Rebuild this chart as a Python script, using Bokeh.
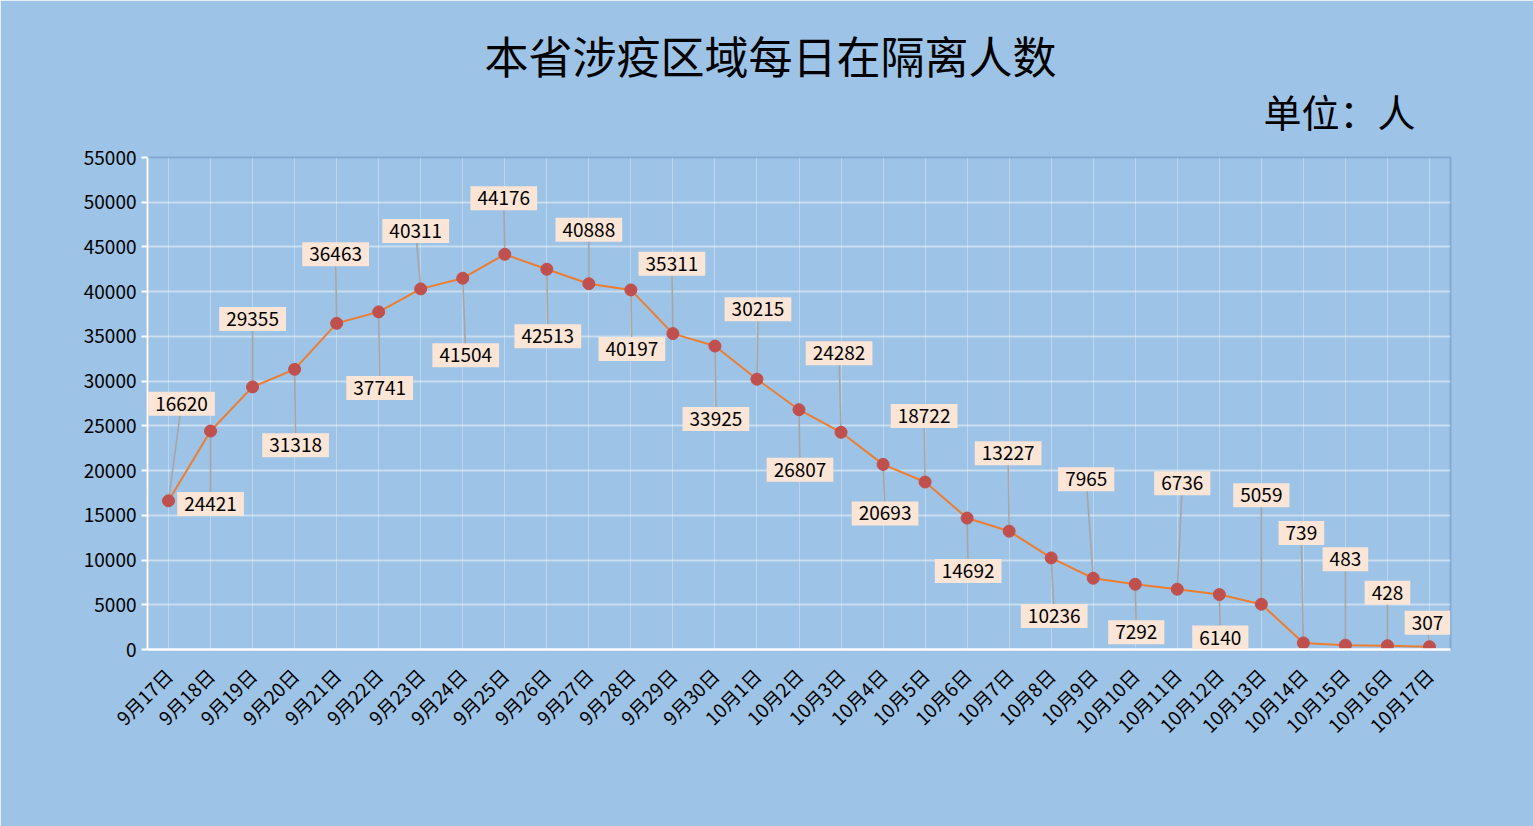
import math
from bokeh.plotting import figure
from bokeh.models import ColumnDataSource, FixedTicker, Range1d, Title, Label
from bokeh.embed import file_html
from bokeh.resources import INLINE

# ---- data ----
dates = ["9月17日", "9月18日", "9月19日", "9月20日", "9月21日", "9月22日", "9月23日",
         "9月24日", "9月25日", "9月26日", "9月27日", "9月28日", "9月29日", "9月30日",
         "10月1日", "10月2日", "10月3日", "10月4日", "10月5日", "10月6日", "10月7日",
         "10月8日", "10月9日", "10月10日", "10月11日", "10月12日", "10月13日", "10月14日",
         "10月15日", "10月16日", "10月17日"]
values = [16620, 24421, 29355, 31318, 36463, 37741, 40311, 41504, 44176, 42513, 40888,
          40197, 35311, 33925, 30215, 26807, 24282, 20693, 18722, 14692, 13227, 10236,
          7965, 7292, 6736, 6140, 5059, 739, 483, 428, 307]
y_ticks = list(range(0, 55001, 5000))

# ---- label placement (pixels, layout only) ----
lab_dy_px = [97, -73, 68, -76, 69, -76, 58, -77, 56, -67, 54, -59, 70, -73, 70, -60,
             79, -49, 66, -53, 78, -58, 99, -48, 106, -43, 109, 110, 86, 53, 24]
lab_dx_px = [13, 0, 0, 1, -1, 1, -5, 3, -1, 1, 0, 1, -1, 1, 1, 1, -2, 2, -1, 1, -1, 3,
             -7, 1, 5, 1, 0, -2, 0, 0, -2]

W, H = 1533, 826
LEFT, RIGHT, TOP, BOTTOM = 147, 83, 157, 177
inner_w = W - LEFT - RIGHT
inner_h = H - TOP - BOTTOM
n = len(dates)
x_per_px = n / inner_w
y_per_px = 55000 / inner_h

xs = list(range(n))
lx = [x + dx * x_per_px for x, dx in zip(xs, lab_dx_px)]
ly = [v + dy * y_per_px for v, dy in zip(values, lab_dy_px)]

src = ColumnDataSource(dict(x=xs, y=values, lx=lx, ly=ly))

BG = "#9DC3E6"
FONT = "Noto Sans CJK SC"

p = figure(width=W, height=H, output_backend="svg", toolbar_location=None,
           x_range=Range1d(-0.5, n - 0.5), y_range=Range1d(0, 55000),
           min_border_left=LEFT, min_border_right=RIGHT,
           min_border_top=TOP, min_border_bottom=BOTTOM)
p.background_fill_color = BG
p.border_fill_color = BG
p.outline_line_color = "#85A9D2"
p.outline_line_width = 2

# titles
unit = Title(text="单位：人", align="right", text_font=FONT, text_font_size="38px",
             text_font_style="normal", text_color="black", offset=35, standoff=39)
p.add_layout(unit, "above")
main = Title(text="本省涉疫区域每日在隔离人数", align="left", text_font=FONT,
             text_font_size="44px", text_font_style="normal", text_color="black",
             offset=337, standoff=-51)
p.add_layout(main, "above")

# axes
p.xaxis.ticker = FixedTicker(ticks=xs)
p.xaxis.major_label_overrides = {i: d for i, d in enumerate(dates)}
p.xaxis.major_label_orientation = math.pi / 4
p.xaxis.major_label_text_font = FONT
p.xaxis.major_label_text_font_size = "19px"
p.xaxis.major_label_text_color = "black"
p.xaxis.major_tick_line_color = None
p.xaxis.minor_tick_line_color = None
p.xaxis.axis_line_color = "white"
p.xaxis.axis_line_width = 2.5
p.xaxis.major_label_standoff = 16

p.yaxis.ticker = FixedTicker(ticks=y_ticks)
p.yaxis.major_label_text_font = FONT
p.yaxis.major_label_text_font_size = "19px"
p.yaxis.major_label_text_color = "black"
p.yaxis.major_tick_line_color = "white"
p.yaxis.major_tick_line_width = 2
p.yaxis.major_tick_out = 6
p.yaxis.major_tick_in = 0
p.yaxis.minor_tick_line_color = None
p.yaxis.axis_line_color = "white"
p.yaxis.axis_line_width = 2
p.yaxis.major_label_standoff = 5

p.ygrid.grid_line_color = "white"
p.ygrid.grid_line_alpha = 0.45
p.ygrid.grid_line_width = 2
p.xgrid.grid_line_color = "white"
p.xgrid.grid_line_alpha = 0.3
p.xgrid.grid_line_width = 1

# series
p.line("x", "y", source=src, line_color="#ED7D31", line_width=2)
p.segment(x0="x", y0="y", x1="lx", y1="ly", source=src, line_color="#A6A6A6", line_width=1.6)
p.scatter("x", "y", source=src, size=12, fill_color="#C0504D", line_color="#C0504D")

for xv, yv, v in zip(lx, ly, values):
    p.add_layout(Label(x=xv, y=yv, text=str(v), text_align="center",
                       text_baseline="middle", text_font=FONT, text_font_size="19px",
                       text_color="black", background_fill_color="#FBE5D6",
                       padding=dict(left=7, right=7, top=5, bottom=5)))

open("out.html", "w").write(file_html(p, INLINE))
